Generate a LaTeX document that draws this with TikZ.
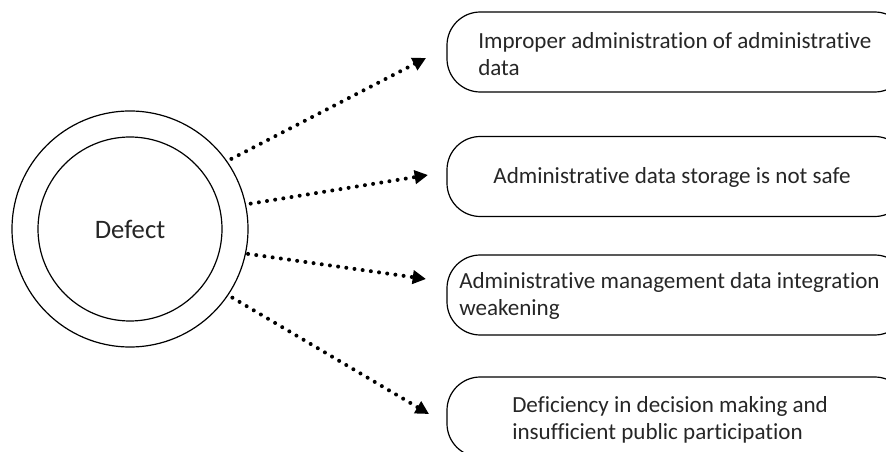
\documentclass[tikz,border=0pt]{standalone}
\usepackage{fontspec}
\setmainfont{Carlito}[Ligatures=NoCommon]
\usepackage{tikz}
\usetikzlibrary{arrows.meta, positioning}

\tikzset{
  ring/.style={draw, circle, line width=0.9pt, inner sep=0pt, outer sep=0pt},
  causebox/.style={draw, rectangle, rounded corners=25pt, line width=0.9pt,
    minimum width=345.75pt, minimum height=60pt, inner sep=0pt},
  causetext/.style={font=\fontsize{17.3}{20.5}\selectfont, align=left, inner sep=0pt, text=black!85},
  dotarrow/.style={line width=3pt, line cap=round, dash pattern=on 0pt off 6.2pt,
    -{Triangle[length=10pt,width=10pt]}},
}

\begin{document}
\begin{tikzpicture}[x=0.75pt,y=0.75pt,yscale=-1,xscale=1]
\useasboundingbox (0,0) rectangle (886,452);

%Circles
\node[ring, minimum size=177pt] (outer) at (130,229) {};
\node[ring, minimum size=138pt, font=\fontsize{20}{24}\selectfont, text=black!85] (defect) at (130,229) {Defect};

%Boxes
\node[causebox] (box1) at (677.5,52) {};
\node[causebox] (box2) at (677.5,176.5) {};
\node[causebox] (box3) at (677.5,295) {};
\node[causebox] (box4) at (677.5,417) {};

% Text Nodes
\node[causetext, anchor=west] (t1) at (478,54) {Improper administration of administrative\\data};
\node[causetext] (t2) at (672,177) {Administrative data storage is not safe};
\node[causetext, anchor=west] (t3) at (459,296) {Administrative management data integration\\weakening};
\node[causetext, anchor=west] (t4) at (512,420) {Deficiency in decision making and\\insufficient public participation};

%Arrow tips
\coordinate (tip1) at (426,58);
\coordinate (tip2) at (428,175);
\coordinate (tip3) at (426,279);
\coordinate (tip4) at (429,414);

%Dotted arrows
\draw[dotarrow, shorten <=4pt] (outer.35) -- (tip1);
\draw[dotarrow, shorten <=4pt] (outer.12) -- (tip2);
\draw[dotarrow, shorten <=2pt] (outer.-12) -- (tip3);
\draw[dotarrow, shorten <=4pt] (outer.-34) -- (tip4);

\end{tikzpicture}
\end{document}
